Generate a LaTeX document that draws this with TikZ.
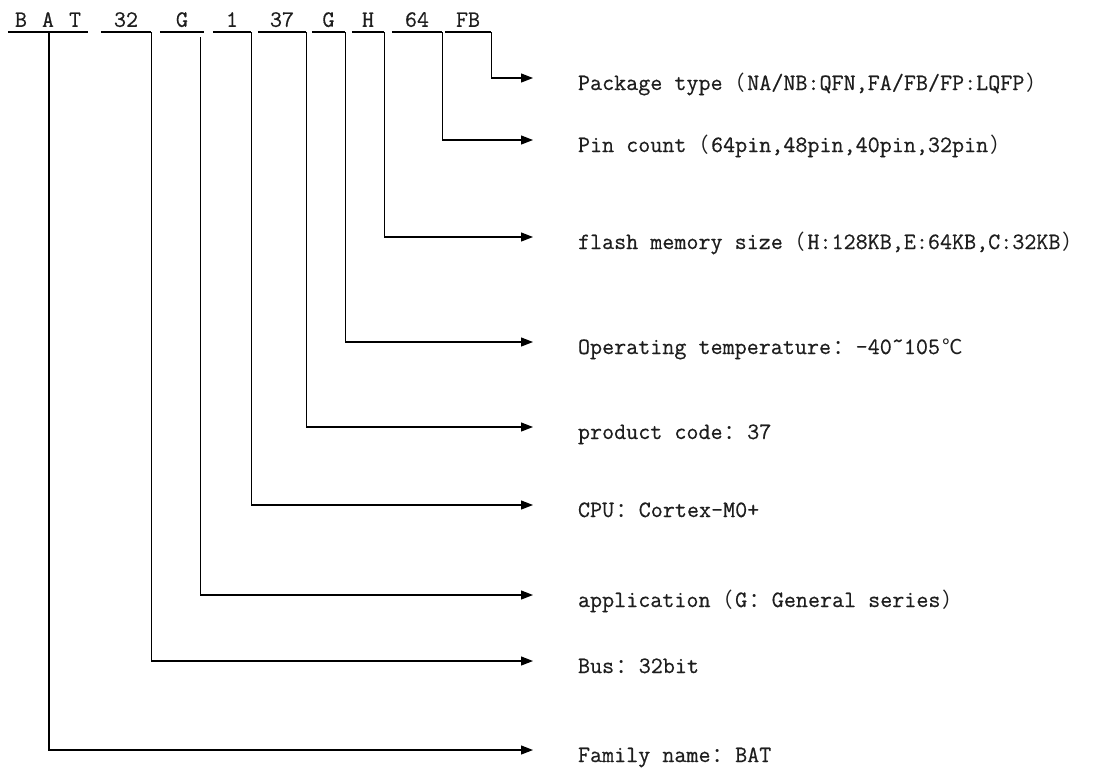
\documentclass[tikz,border=0pt]{standalone}
\usepackage{fontspec}
\setmonofont[FakeBold=0.5]{Latin Modern Mono}
\newfontfamily\cjkfont{Noto Sans CJK SC}
\usetikzlibrary{arrows.meta}
\newcommand\fwc[1]{\makebox[24.6pt][c]{\cjkfont\fontsize{20.5pt}{24pt}\selectfont #1}}
\definecolor{ink}{HTML}{1E1E1E}
\tikzset{
  txt/.style={font=\ttfamily\fontsize{23.4pt}{26pt}\selectfont, text=ink},
  seg/.style={txt, inner sep=0pt, anchor=south, text height=14pt, text depth=5pt, align=center},
  lab/.style={txt, anchor=west, inner xsep=0pt, inner ysep=0pt, outer xsep=45pt, outer ysep=0pt, text height=24pt, text depth=0pt},
  uline/.style={line width=1.4pt, black},
  conn/.style={line width=1.2pt, black, -{Triangle[length=12pt,width=9pt]}}
}
\begin{document}
\begin{tikzpicture}[x=1pt,y=-1pt]
\useasboundingbox (0,0) rectangle (1100,772);
% code segments
\node[seg, minimum width=80pt] (sbat) at (48,32) {B\hskip15pt A\hskip15pt T};
\node[seg, minimum width=50pt] (s32) at (126,32) {32};
\node[seg, minimum width=44pt] (sg) at (182,32) {G};
\node[seg, minimum width=38pt] (s1) at (232,32) {1};
\node[seg, minimum width=48pt] (s37) at (282,32) {37};
\node[seg, minimum width=33pt] (sg2) at (328.5,32) {G};
\node[seg, minimum width=32pt] (sh) at (368,32) {H};
\node[seg, minimum width=50pt] (s64) at (417,32) {64};
\node[seg, minimum width=46pt] (sfb) at (468,32) {FB};
\foreach \s in {sbat,s32,sg,s1,s37,sg2,sh,s64,sfb}
  \draw[uline] (\s.south west) -- (\s.south east);
% labels
\node[lab] (lpkg) at (533,78) {Package type\fwc{（}NA/NB:QFN,FA/FB/FP:LQFP\fwc{）}};
\node[lab] (lpin) at (533,140) {Pin count\fwc{（}64pin,48pin,40pin,32pin\fwc{）}};
\node[lab] (lfl) at (533,237) {flash memory size\fwc{（}H:128KB,E:64KB,C:32KB\fwc{）}};
\node[lab] (lop) at (533,342) {Operating temperature\fwc{：}-40\raisebox{6pt}{\textasciitilde}105\fwc{℃}};
\node[lab] (lpc) at (533,427) {product code\fwc{：}37};
\node[lab] (lcpu) at (533,505) {CPU\fwc{：}Cortex-M0+};
\node[lab] (lapp) at (533,595) {application\fwc{（}G\fwc{：}General series\fwc{）}};
\node[lab] (lbus) at (533,661) {Bus\fwc{：}32bit};
\node[lab] (lfam) at (533,750) {Family name\fwc{：}BAT};
% connectors
\draw[conn] (sfb.south east) |- (lpkg.west);
\draw[conn] (s64.south east) |- (lpin.west);
\draw[conn] (sh.south east) |- (lfl.west);
\draw[conn] (sg2.south east) |- (lop.west);
\draw[conn] (s37.south east) |- (lpc.west);
\draw[conn] (s1.south east) |- (lcpu.west);
\draw[conn] ([shift={(-4,5)}]sg.south east) |- (lapp.west);
\draw[conn] (s32.south east) |- (lbus.west);
\draw[conn] ([xshift=1pt]sbat.south) |- (lfam.west);
\end{tikzpicture}
\end{document}
